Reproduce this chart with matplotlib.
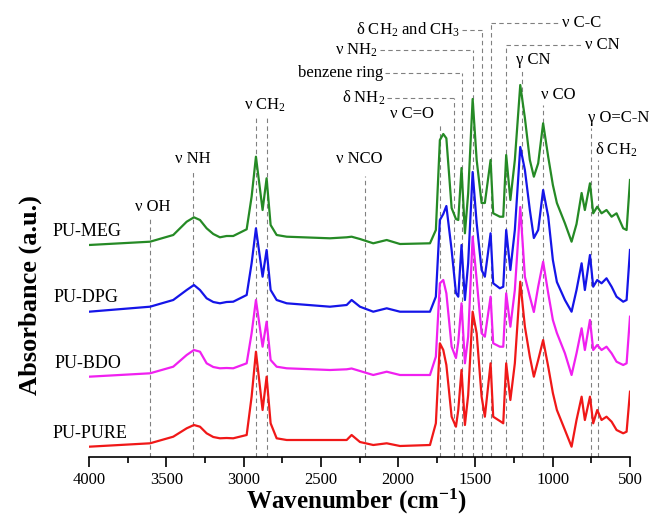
import matplotlib
matplotlib.use("Agg")
import matplotlib.pyplot as plt
import numpy as np

plt.rcParams['font.family'] = ['Liberation Serif', 'DejaVu Serif']
plt.rcParams['mathtext.fontset'] = 'custom'
plt.rcParams['mathtext.rm'] = 'Liberation Serif'
plt.rcParams['mathtext.it'] = 'Liberation Serif:italic'
plt.rcParams['mathtext.bf'] = 'Liberation Serif:bold'
plt.rcParams['mathtext.default'] = 'regular'

# ---------------- data ----------------
wavenumber = [4000, 3605, 3455, 3368, 3321, 3282, 3239, 3196, 3153, 3110, 3067, 2980,
              2948, 2920, 2877, 2851, 2825, 2786, 2721, 2441, 2333, 2301, 2247, 2161,
              2074, 1988, 1794, 1756, 1730, 1708, 1688, 1654, 1626, 1611, 1590, 1568,
              1547, 1518, 1492, 1460, 1439, 1402, 1385, 1342, 1320, 1301, 1274, 1245,
              1210, 1180, 1148, 1122, 1094, 1062, 1029, 999, 973, 921, 878, 846, 813,
              792, 759, 738, 712, 684, 652, 619, 587, 544, 522, 500]

pu_pure = [0.103, 0.137, 0.203, 0.287, 0.320, 0.303, 0.237, 0.200, 0.187, 0.190, 0.187, 0.220,
           0.603, 1.053, 0.470, 0.803, 0.337, 0.187, 0.170, 0.170, 0.170, 0.220, 0.150, 0.120,
           0.137, 0.110, 0.120, 0.337, 1.137, 1.070, 0.920, 0.403, 0.303, 0.470, 0.870, 0.320,
           0.620, 1.453, 1.237, 0.603, 0.403, 0.937, 0.403, 0.360, 0.337, 0.937, 0.570, 0.937,
           1.753, 1.303, 1.003, 0.803, 0.970, 1.170, 0.903, 0.640, 0.470, 0.270, 0.103, 0.370, 0.603,
           0.370, 0.603, 0.337, 0.470, 0.370, 0.403, 0.353, 0.270, 0.237, 0.253, 0.653]

pu_bdo = [0.103, 0.137, 0.203, 0.320, 0.370, 0.353, 0.237, 0.200, 0.187, 0.190, 0.187, 0.237,
          0.537, 0.870, 0.403, 0.653, 0.270, 0.203, 0.187, 0.170, 0.177, 0.185, 0.160, 0.120,
          0.153, 0.120, 0.120, 0.303, 1.037, 1.070, 0.937, 0.403, 0.290, 0.450, 0.837, 0.237,
          0.503, 1.503, 1.070, 0.537, 0.503, 0.903, 0.437, 0.403, 0.403, 0.937, 0.603, 0.970,
          1.800, 1.103, 0.903, 0.750, 1.003, 1.253, 0.937, 0.670, 0.540, 0.337, 0.120, 0.337, 0.587,
          0.370, 0.670, 0.370, 0.420, 0.370, 0.403, 0.337, 0.253, 0.220, 0.237, 0.703]

pu_dpg = [0.103, 0.153, 0.220, 0.320, 0.370, 0.320, 0.237, 0.200, 0.187, 0.200, 0.203, 0.270,
          0.587, 0.937, 0.453, 0.720, 0.320, 0.220, 0.187, 0.153, 0.170, 0.220, 0.153, 0.103,
          0.137, 0.103, 0.103, 0.253, 1.020, 1.080, 1.160, 0.720, 0.290, 0.253, 0.770, 0.220,
          0.587, 1.500, 0.987, 0.520, 0.453, 0.887, 0.387, 0.337, 0.353, 0.920, 0.520, 0.920,
          1.750, 1.520, 1.120, 0.840, 0.920, 1.320, 1.053, 0.620, 0.400, 0.220, 0.103, 0.320, 0.587,
          0.320, 0.670, 0.353, 0.420, 0.387, 0.437, 0.353, 0.253, 0.203, 0.220, 0.720]

pu_meg = [0.100, 0.133, 0.200, 0.333, 0.377, 0.350, 0.267, 0.210, 0.177, 0.190, 0.190, 0.257,
          0.583, 0.983, 0.450, 0.767, 0.300, 0.200, 0.183, 0.167, 0.177, 0.183, 0.160, 0.117,
          0.150, 0.110, 0.117, 0.250, 1.150, 1.210, 1.167, 0.470, 0.360, 0.350, 0.870, 0.217,
          0.617, 1.560, 0.950, 0.520, 0.520, 0.950, 0.417, 0.383, 0.383, 1.000, 0.550, 0.950,
          1.700, 1.370, 0.950, 0.783, 0.917, 1.317, 0.980, 0.700, 0.520, 0.317, 0.133, 0.310, 0.620,
          0.450, 0.717, 0.417, 0.483, 0.417, 0.450, 0.383, 0.417, 0.267, 0.250, 0.750]

sample_names = ["PU-PURE", "PU-BDO", "PU-DPG", "PU-MEG"]
spectra = [pu_pure, pu_bdo, pu_dpg, pu_meg]
offsets = [0.0, 0.70, 1.35, 2.02]
colors = ["#f01818", "#f020f0", "#1515e8", "#258a25"]

x_ticks = [4000, 3500, 3000, 2500, 2000, 1500, 1000, 500]

# band assignments: (position, label)
bands_simple = [
    (3605, r"ν OH"), (3329, r"ν NH"), (2215, r"ν NCO"), (1730, r"ν C=O"),
    (1201, r"γ CN"), (1061, r"ν CO"), (753, r"γ O=C-N"), (710, r"δ CH$_2$"),
]
ch2_bands = [2920, 2851]
bands_left = [(1640, r"δ NH$_2$"), (1585, "benzene ring"), (1515, r"ν NH$_2$"),
              (1455, r"δ CH$_2$ and CH$_3$")]
bands_right = [(1402, "ν C-C"), (1305, "ν CN")]

# ---------------- figure ----------------
W, H = 657, 515
fig = plt.figure(figsize=(W / 100, H / 100), dpi=100)
ax = fig.add_axes([89 / W, (H - 457) / H, 541 / W, 457 / H])
ax.set_xlim(4000, 500)
ax.set_ylim(0, 4.57)

def a(py):
    return (457 - py) / 100.0

dash = dict(color="#808080", lw=0.8, ls=(0, (4, 3)), zorder=1)
fs_ann = 12

# simple vertical lines with label above
simple_geom = {3605: (217, 207, 3586, 'center'), 3329: (170, 159, 3331, 'center'),
               2215: (176, 159, 2254, 'center'), 1730: (123, 114, 1908, 'center'),
               1201: (70, 60, 1238, 'left'), 1061: (105, 95, 1077, 'left'),
               753: (128, 118, 772, 'left'), 710: (160, 150, 727, 'left')}
for pos, lab in bands_simple:
    top, ty, tx, ha = simple_geom[pos]
    ax.plot([pos, pos], [0, a(top)], **dash)
    ax.text(tx, a(ty), lab, fontsize=fs_ann, ha=ha, va='center')

for pos in ch2_bands:
    ax.plot([pos, pos], [0, a(117)], **dash)
ax.text(2862, a(105), r"ν CH$_2$", fontsize=fs_ann, ha='center', va='center')

left_geom = {1640: (98, 2073), 1585: (73, 2085), 1515: (50, 2118), 1455: (30, 1587)}
for pos, lab in bands_left:
    ly, xs = left_geom[pos]
    ax.plot([pos, pos], [0, a(ly)], **dash)
    ax.plot([xs, pos], [a(ly), a(ly)], **dash)
    ax.text(xs + 13, a(ly), lab, fontsize=fs_ann, ha='right', va='center')

right_geom = {1402: (23, 954, 941), 1305: (45, 805, 790)}
for pos, lab in bands_right:
    ly, xe, tx = right_geom[pos]
    ax.plot([pos, pos], [0, a(ly)], **dash)
    ax.plot([pos, xe], [a(ly), a(ly)], **dash)
    ax.text(tx, a(ly), lab, fontsize=fs_ann, ha='left', va='center')

# spectra
for name, ys, off, c in zip(sample_names, spectra, offsets, colors):
    ax.plot(wavenumber, np.array(ys) + off, color=c, lw=1.6, zorder=3)

label_pos = {"PU-PURE": (4233, a(433), 'left'), "PU-BDO": (4010, a(363), 'center'),
             "PU-DPG": (4022, a(298), 'center'), "PU-MEG": (4010, a(232), 'center')}
for name in sample_names:
    x, y, ha = label_pos[name]
    ax.text(x, y, name, fontsize=13, ha=ha, va='center', clip_on=False)

# axes styling
for s in ["left", "right", "top"]:
    ax.spines[s].set_visible(False)
ax.spines["bottom"].set_linewidth(1.2)
ax.set_yticks([])
ax.set_xticks(x_ticks)
ax.set_xticklabels([str(t) for t in x_ticks], fontsize=12)
ax.set_xticks(np.arange(3750, 500, -500), minor=True)
ax.tick_params(axis='x', which='major', direction='out', length=7, width=1.2, pad=4)
ax.tick_params(axis='x', which='minor', direction='out', length=4, width=1.2)

fig.text(357 / W, 1 - 509 / H, r"Wavenumber (cm$^{-1}$)", fontsize=18, fontweight='bold',
         ha='center', va='baseline')
fig.text(30 / W, 1 - 295 / H, "Absorbance (a.u.)", fontsize=19, fontweight='bold',
         rotation=90, ha='center', va='center')

fig.savefig("out.png", dpi=100)
